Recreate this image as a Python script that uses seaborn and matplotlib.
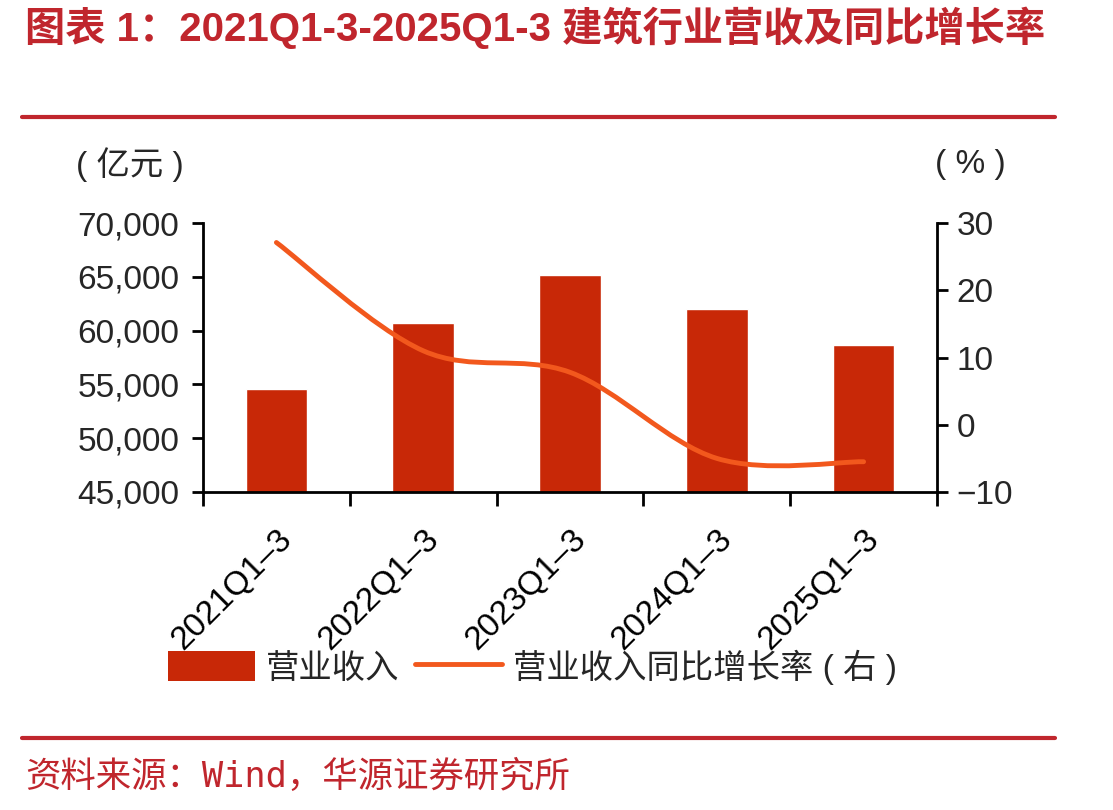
import numpy as np
import matplotlib.pyplot as plt
import seaborn as sns
from matplotlib.path import Path
from matplotlib.patches import PathPatch, Patch
from matplotlib.lines import Line2D
from matplotlib.ticker import FuncFormatter, FixedLocator

# 数据
periods = ['2021Q1–3', '2022Q1–3', '2023Q1–3', '2024Q1–3', '2025Q1–3']
revenue = [54600, 60700, 65200, 62000, 58700]   # 营业收入，亿元
growth = [27.1, 11.0, 7.8, -5.0, -5.5]          # 同比增长率，%

TITLE = '图表 1：2021Q1-3-2025Q1-3 建筑行业营收及同比增长率'
SOURCE = '资料来源：Wind，华源证券研究所'

RED = '#C0262D'
BAR = '#C82807'
LINE = '#F2581D'

sns.set_theme(style='white')
plt.rcParams['font.family'] = ['Liberation Sans', 'Noto Sans CJK SC', 'DejaVu Sans']
plt.rcParams['axes.unicode_minus'] = True

W, H = 1113, 810


def smooth_path(xs, ys):
    """Catmull-Rom 曲线转成三次贝塞尔路径，用于平滑折线"""
    pts = np.column_stack([xs, ys]).astype(float)
    n = len(pts)
    verts, codes = [pts[0]], [Path.MOVETO]
    for i in range(n - 1):
        p0, p1 = pts[max(i - 1, 0)], pts[i]
        p2, p3 = pts[i + 1], pts[min(i + 2, n - 1)]
        verts += [p1 + (p2 - p0) / 6, p2 - (p3 - p1) / 6, p2]
        codes += [Path.CURVE4] * 3
    return Path(verts, codes)


fig = plt.figure(figsize=(W / 100, H / 100), dpi=100)
ax = fig.add_axes([203 / W, 1 - 492 / H, (937 - 203) / W, (492 - 223) / H])

sns.barplot(x=periods, y=revenue, color=BAR, saturation=1, width=0.42, ax=ax)
ax.set_xlim(-0.5, len(periods) - 0.5)
ax.set_ylim(45000, 70000)
ax.set_yticks(np.arange(45000, 70001, 5000))
ax.yaxis.set_major_formatter(FuncFormatter(lambda v, p: f'{v:,.0f}'))
ax.set_xlabel('')
ax.set_ylabel('')

ax.set_xticks(range(len(periods)))
ax.set_xticklabels(periods, rotation=45, ha='right', va='top', rotation_mode='anchor')
ax.xaxis.set_minor_locator(FixedLocator(np.arange(-0.5, len(periods), 1)))
ax.tick_params(axis='x', which='major', length=0, pad=23, labelsize=24, colors='black')
ax.tick_params(axis='x', which='minor', bottom=True, length=10, width=2, color='black')
ax.tick_params(axis='y', left=True, length=8, width=2, pad=9, labelsize=24, color='black')

for s in ['top', 'right']:
    ax.spines[s].set_visible(False)
for s in ['left', 'bottom']:
    ax.spines[s].set_color('black')
    ax.spines[s].set_linewidth(2)

# 右轴：同比增长率
ax2 = ax.twinx()
ax2.set_ylim(-10, 30)
ax2.set_yticks(np.arange(-10, 31, 10))
ax2.grid(False)
ax2.tick_params(axis='y', right=True, length=8, width=2, pad=6, labelsize=24, color='black')
for s in ['top', 'left', 'bottom']:
    ax2.spines[s].set_visible(False)
ax2.spines['right'].set_color('black')
ax2.spines['right'].set_linewidth(2)

ax2.add_patch(PathPatch(smooth_path(np.arange(len(growth)), growth),
                        facecolor='none', edgecolor=LINE, lw=3.5, capstyle='round'))

# 轴单位
fig.text(130 / W, 1 - 165 / H, '( 亿元 )', ha='center', va='center', fontsize=24)
fig.text(970 / W, 1 - 165 / H, '( % )', ha='center', va='center', fontsize=24)

# 图例
handles = [Patch(facecolor=BAR, edgecolor='none'), Line2D([], [], color=LINE, lw=3.5)]
fig.legend(handles, ['营业收入', '营业收入同比增长率 ( 右 )'], loc='center left',
           bbox_to_anchor=(168 / W, 1 - 667 / H), ncol=2, frameon=False, fontsize=24,
           handlelength=2.6, handleheight=1.0, handletextpad=0.35, columnspacing=0.45,
           borderpad=0, borderaxespad=0)

# 标题、分隔线、来源
fig.text(25 / W, 1 - 28 / H, TITLE, ha='left', va='center', fontsize=29,
         fontweight='bold', color=RED)
for yy in [117, 738]:
    fig.add_artist(Line2D([22 / W, 1055 / W], [1 - yy / H] * 2, color=RED, lw=3))
fig.text(25 / W, 1 - 777 / H, SOURCE, ha='left', va='center', fontsize=25.5, color=RED,
         family=['DejaVu Sans Mono', 'Noto Sans CJK SC'])

fig.savefig('out.png', dpi=100)
